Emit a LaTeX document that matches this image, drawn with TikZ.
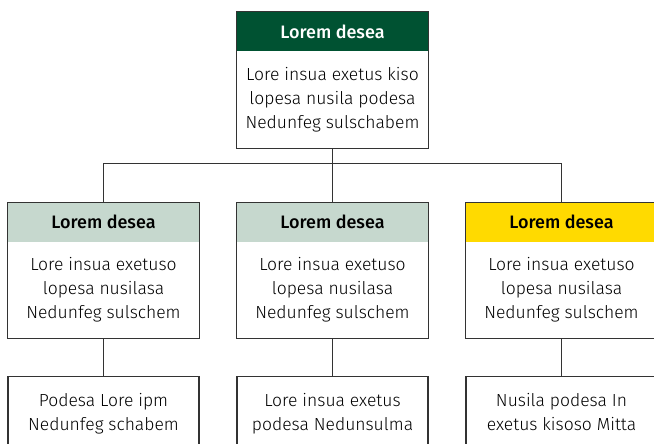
\documentclass[tikz,border=0pt]{standalone}
\usepackage{fontspec}
\setmainfont{Fira Sans Light}[BoldFont={Fira Sans Medium}]
\usetikzlibrary{positioning}
\definecolor{dunkelgruen}{HTML}{005232}
\definecolor{salbei}{HTML}{C6D8CE}
\definecolor{gelb}{HTML}{FFDA00}
\begin{document}
\begin{tikzpicture}[x=1pt,y=1pt,
	kopf/.style={minimum width=191pt,minimum height=39pt,inner sep=0pt,font=\fontsize{18}{24}\selectfont\bfseries},
	rumpf/.style={minimum width=191pt,minimum height=97pt,inner sep=0pt,align=center,font=\fontsize{17.5}{24}\selectfont,
		execute at begin node=\rule{0pt}{19.8pt},execute at end node=\rule[-4.2pt]{0pt}{0pt}},
	rahmen/.style={draw=black!80,line width=1.2pt},
	linie/.style={draw=black!80,line width=1.2pt}]
	\useasboundingbox (0,0) rectangle (654,-444);
	\def\dx{229}
	% oberste Ebene
	\node[kopf,fill=dunkelgruen,text=white] (k0) at (332.5,-31.5) {Lorem desea};
	\node[rumpf,below=0pt of k0] (r0) {Lore insua exetus kiso\\lopesa nusila podesa\\Nedunfeg sulschabem};
	\draw[rahmen] (k0.north west) rectangle (r0.south east);
	% zweite Ebene
	\node[kopf,fill=salbei] (k1) at (332.5-\dx,-222) {Lorem desea};
	\node[kopf,fill=salbei] (k2) at (332.5,-222) {Lorem desea};
	\node[kopf,fill=gelb] (k3) at (332.5+\dx,-222) {Lorem desea};
	\foreach \i in {1,2,3}{
		\node[rumpf,minimum height=96pt,below=0pt of k\i] (r\i) {Lore insua exetuso\\lopesa nusilasa\\Nedunfeg sulschem};
		\draw[rahmen] (k\i.north west) rectangle (r\i.south east);
	}
	% dritte Ebene
	\node[rumpf,minimum height=74pt,rahmen,below=38pt of r1] (u1) {Podesa Lore ipm\\Nedunfeg schabem};
	\node[rumpf,minimum height=74pt,rahmen,below=38pt of r2] (u2) {Lore insua exetus\\podesa Nedunsulma};
	\node[rumpf,minimum height=74pt,rahmen,below=38pt of r3] (u3) {Nusila podesa In\\exetus kisoso Mitta};
	% Verbindungen
	\coordinate (j) at ([yshift=-15pt]r0.south);
	\draw[linie] (r0.south) -- (k2.north);
	\draw[linie] (k1.north) |- (j) -| (k3.north);
	\foreach \i in {1,2,3}
		\draw[linie] (r\i.south) -- (u\i.north);
\end{tikzpicture}
\end{document}
